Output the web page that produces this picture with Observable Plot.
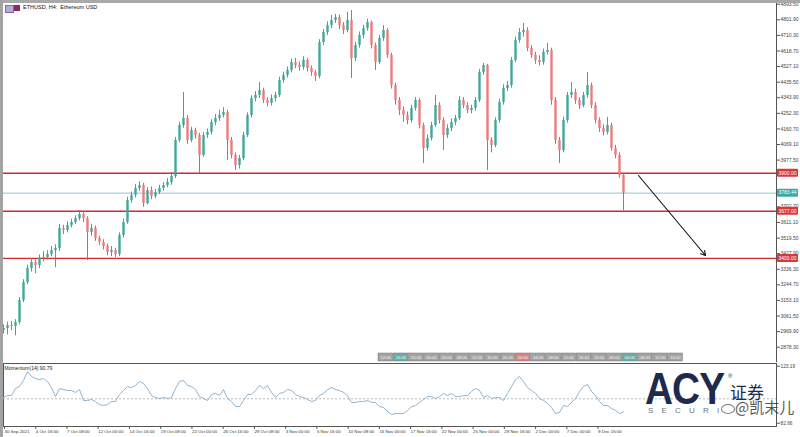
<!DOCTYPE html>
<html><head><meta charset="utf-8">
<script src="https://cdn.jsdelivr.net/npm/d3@7"></script>
<script src="https://cdn.jsdelivr.net/npm/@observablehq/plot@0.6"></script>
<style>
html,body{margin:0;padding:0;background:#fff;}
#wrap{position:relative;width:800px;height:437px;overflow:hidden;font-family:"Liberation Sans",sans-serif;}
#wrap svg{display:block;}
.ov{position:absolute;white-space:nowrap;}
</style></head><body><div id="wrap"></div>
<script>
// ---------- DATA ----------
const firstOpen = 2975;
const closes = [2988,3006,3000,3024,3153,3258,3341,3376,3358,3400,
3405,3423,3446,3458,3576,3564,3593,3611,3634,3658,
3634,3552,3576,3517,3494,3470,3435,3446,3423,3535,
3611,3740,3770,3811,3828,3723,3799,3764,3787,3811,
3828,3846,3881,4093,4181,4222,4093,4151,4122,4005,
4122,4140,4198,4222,4240,4257,4093,4005,3946,3987,
4122,4240,4339,4357,4386,4328,4310,4339,4357,4445,
4475,4504,4551,4533,4522,4563,4516,4492,4469,4668,
4727,4768,4798,4815,4768,4739,4798,4574,4651,4710,
4751,4786,4651,4551,4692,4739,4592,4416,4328,4269,
4240,4210,4281,4328,4181,4046,4104,4181,4298,4210,
4122,4163,4198,4222,4328,4298,4269,4281,4328,4492,
4533,4093,4063,4210,4316,4398,4416,4563,4680,4727,
4739,4633,4592,4563,4551,4610,4622,4328,4093,4034,
4210,4357,4375,4328,4298,4357,4416,4298,4210,4163,
4140,4181,4046,4005,3887,3783];
const highs = [3010,3025,3030,3040,3170,3275,3360,3400,3390,3420,
3440,3445,3470,3480,3600,3595,3615,3630,3650,3680,
3675,3645,3600,3590,3530,3510,3485,3470,3460,3550,
3630,3760,3790,3835,3850,3840,3815,3820,3805,3830,
3845,3870,3905,4110,4200,4375,4240,4170,4165,4135,
4140,4160,4215,4245,4270,4285,4270,4110,4020,4005,
4140,4255,4355,4380,4433,4400,4345,4360,4375,4465,
4495,4525,4570,4575,4555,4585,4575,4530,4505,4685,
4745,4790,4827,4833,4830,4785,4845,4856,4670,4730,
4770,4805,4795,4665,4710,4768,4750,4605,4430,4345,
4290,4260,4300,4345,4340,4195,4125,4200,4357,4315,
4225,4185,4220,4240,4350,4345,4315,4300,4345,4510,
4545,4540,4110,4225,4335,4420,4440,4580,4700,4750,
4780,4755,4650,4610,4590,4630,4663,4635,4345,4110,
4230,4375,4433,4395,4345,4375,4492,4430,4315,4225,
4185,4228,4195,4065,4020,3900];
const lows = [2955,2950,2975,2945,3010,3140,3245,3320,3310,3340,
3380,3390,3410,3346,3440,3540,3550,3580,3600,3620,
3610,3388,3530,3500,3475,3450,3415,3410,3405,3410,
3520,3600,3725,3755,3795,3700,3715,3745,3750,3775,
3795,3815,3830,3870,4080,4165,4070,4080,4100,3899,
3995,4105,4125,4180,4205,4225,3975,3985,3916,3925,
3975,4110,4225,4320,4340,4310,4290,4295,4320,4345,
4430,4460,4490,4515,4500,4505,4495,4470,4440,4455,
4650,4710,4750,4780,4745,4715,4725,4457,4555,4635,
4690,4735,4630,4504,4540,4675,4575,4395,4300,4240,
4200,4185,4195,4265,4160,3958,4030,4090,4170,4190,
4034,4105,4145,4180,4210,4280,4250,4250,4265,4315,
4475,3916,4020,4050,4195,4300,4380,4400,4550,4665,
4700,4615,4575,4540,4530,4535,4595,4300,4070,3958,
4020,4195,4340,4305,4275,4285,4340,4280,4190,4140,
4120,4125,4030,3985,3870,3681];
const momentum = [100.9,102.3,102.3,107.3,108.7,113.0,119.4,115.9,114.4,113.7,
114.4,112.3,108.0,101.6,107.3,106.6,105.9,105.9,104.5,106.6,
98.8,98.8,99.5,98.1,95.9,95.2,95.9,98.1,98.1,103.1,
105.9,108.7,108.0,109.5,112.3,110.9,107.3,102.3,100.9,100.2,
100.9,100.2,100.9,107.3,112.3,113.0,109.5,108.7,106.6,101.6,
100.2,98.8,103.1,103.8,102.3,106.6,100.2,98.1,94.5,94.5,
98.8,103.1,103.1,105.9,109.5,107.3,109.5,104.5,100.9,103.8,
104.5,106.6,105.9,103.1,101.6,100.9,99.5,98.1,98.8,102.3,
103.8,106.6,108.0,106.6,105.9,104.5,102.3,97.4,97.4,98.1,
98.1,98.8,97.4,97.4,94.5,93.8,91.0,88.8,89.5,89.5,
89.5,91.7,94.5,95.2,97.4,99.5,101.6,101.6,100.2,101.6,
103.8,102.3,103.8,101.6,101.6,102.3,102.3,105.2,107.3,105.9,
100.9,102.3,100.2,100.9,100.9,98.8,103.8,108.7,113.7,115.9,
112.3,108.0,105.9,103.8,100.2,98.8,96.7,93.8,89.5,90.3,
95.2,94.5,97.4,100.2,105.2,108.7,110.2,105.2,102.3,98.1,
95.2,95.2,93.1,91.7,89.5,90.79];
const redLevels = [3900.00, 3677.00, 3400.00];
const currentPrice = 3783.44;
// 3885.90 and 3794.30 sit under the level labels in the reference
const priceTicks = [4893.50,4801.90,4710.30,4618.70,4527.10,4435.50,4343.90,4252.30,4160.70,4069.10,3977.50,3702.70,3611.10,3519.50,3427.90,3336.30,3244.70,3153.10,3061.50,2969.90,2878.30];
const momTicks = [123.19, 82.66];
const momLevel = 100;
const timeLabels = ["30 Sep 2021","4 Oct 16:00","7 Oct 08:00","12 Oct 00:00","14 Oct 16:00","19 Oct 08:00","22 Oct 00:00","26 Oct 16:00","29 Oct 08:00","3 Nov 00:00","5 Nov 16:00","10 Nov 08:00","15 Nov 00:00","17 Nov 16:00","22 Nov 00:00","25 Nov 00:00","29 Nov 16:00","2 Dec 00:00","7 Dec 00:00","9 Dec 16:00"];
const labelEvery = 7.81;  // 16 H4 bars in candle units
const arrowFrom = {x: 158.75, price: 3887};
const arrowTo = {x: 175.5, price: 3417};
const stripLabels = ["12:00","16:00","20:00","00:00","04:00","08:00","12:00","16:00","20:00","00:00","04:00","08:00","12:00","16:00","20:00","00:00","04:00","08:00","12:00","16:00"];
const stripKinds = ["g","t","g","g","g","g","g","g","g","r","g","g","g","g","g","g","t","g","g","g"];

// ---------- BUILD ----------
const candles = closes.map((c,i)=>({i, open: i===0?firstOpen:closes[i-1], close:c, high:highs[i], low:lows[i]}));
const up = candles.filter(d=>d.close>=d.open), down = candles.filter(d=>d.close<d.open);
const xMax = 193.25;
const font = "Liberation Sans, sans-serif";
const narrow = "Liberation Sans Narrow, Liberation Sans, sans-serif";
const wrap = document.getElementById("wrap");

const main = Plot.plot({
  width:800, height:362, marginTop:0, marginBottom:10, marginLeft:3, marginRight:24,
  style:{fontFamily:font, fontSize:"5px", color:"#333", background:"transparent", overflow:"visible"},
  x:{domain:[0,xMax], axis:null},
  y:{domain:[2847.2,4915.2], axis:null},
  marks:[
    Plot.ruleY(redLevels,{stroke:"#d42a2a",strokeWidth:1.4}),
    Plot.ruleY([currentPrice],{stroke:"#8fc4d9",strokeWidth:1}),
    Plot.ruleX(candles,{x:"i",y1:"low",y2:"high",stroke:"#777",strokeWidth:0.9}),
    Plot.ruleX(up,{x:"i",y1:"open",y2:"close",stroke:"#3ea89c",strokeWidth:2.4}),
    Plot.ruleX(down,{x:"i",y1:"open",y2:"close",stroke:"#ec7b7d",strokeWidth:2.4}),
    Plot.arrow([0],{x1:()=>arrowFrom.x,y1:()=>arrowFrom.price,x2:()=>arrowTo.x,y2:()=>arrowTo.price,stroke:"#111",strokeWidth:1.1,headLength:7}),
    Plot.ruleX([xMax],{stroke:"#555",strokeWidth:1}),
    Plot.axisY(priceTicks,{anchor:"right",tickSize:3,tickPadding:1,tickFormat:d=>d.toFixed(2),fontSize:5,fill:"#444",stroke:"#555"})
  ]
});
wrap.appendChild(main);

// price level labels positioned through the y scale
const ys = main.scale("y");
const gl = d3.select(main).append("g").attr("font-family",font).attr("font-size",5);
const lvlLabels = redLevels.map(v=>({v,c:"#d9383b"})).concat([{v:currentPrice,c:"#3fa8a0"}]);
lvlLabels.forEach(l=>{
  const py = ys.apply(l.v);
  gl.append("rect").attr("x",777).attr("y",py-4).attr("width",21).attr("height",8).attr("fill",l.c).attr("rx",1);
  gl.append("text").attr("x",787.5).attr("y",py+1.8).attr("text-anchor","middle").attr("fill","#fff").text(l.v.toFixed(2));
});
// date strip
const gs = d3.select(main).append("g").attr("font-family",narrow).attr("font-size",4.2);
const bw = 305/stripLabels.length;
stripLabels.forEach((t,k)=>{
  const fill = stripKinds[k]==="t"?"#69aeaa":stripKinds[k]==="r"?"#d98484":"#a3a3a3";
  gs.append("rect").attr("x",378+k*bw).attr("y",353).attr("width",bw-0.6).attr("height",8).attr("fill",fill).attr("stroke","#777").attr("stroke-width",0.5);
  gs.append("text").attr("x",378+k*bw+bw/2).attr("y",359.2).attr("text-anchor","middle").attr("fill","#f4f4f4").text(t);
});
d3.select(main).append("line").attr("x1",776.5).attr("x2",776.5).attr("y1",352).attr("y2",362).attr("stroke","#555");

const tickPos = timeLabels.map((_,k)=>k*labelEvery);
const tickMap = new Map(tickPos.map((p,k)=>[p,timeLabels[k]]));
const mom = Plot.plot({
  width:800, height:75, marginTop:1, marginBottom:11, marginLeft:3, marginRight:24,
  style:{fontFamily:font, fontSize:"5px", color:"#333", background:"transparent", overflow:"visible"},
  x:{domain:[0,xMax], axis:null},
  y:{domain:[80.3,125.1], axis:null},
  marks:[
    Plot.frame({stroke:"#555",strokeWidth:1}),
    Plot.ruleY([momLevel],{stroke:"#b8b8b8",strokeDasharray:"2,2"}),
    Plot.lineY(momentum,{x:(d,i)=>i,y:d=>d,stroke:"#8fb3cf",strokeWidth:1}),
    Plot.axisY(momTicks,{anchor:"right",tickSize:3,tickPadding:1,tickFormat:d=>d.toFixed(2),fontSize:4.8,fill:"#444",stroke:"#555"}),
    Plot.axisX(tickPos,{anchor:"bottom",tickSize:3,tickPadding:0.5,tickFormat:d=>tickMap.get(d),textAnchor:"start",dx:1,fontSize:4.4,fontFamily:narrow,fill:"#333",stroke:"#555"}),
    Plot.text(["Momentum(14) 90.79"],{frameAnchor:"top-left",dx:1,dy:3,fontSize:5,fill:"#222",text:d=>d})
  ]
});
wrap.appendChild(mom);

// window chrome, header, watermark
function ov(html, css){const d=document.createElement("div");d.className="ov";d.style.cssText=css;d.innerHTML=html;wrap.appendChild(d);return d;}
ov("","left:0;top:0;width:800px;height:3px;background:#a9a9a9;");
ov("","left:0;top:0;width:3px;height:437px;background:#a3a3a3;");
ov("","left:5px;top:5px;width:7px;height:6px;background:#b9a9d9;border:1px solid #7d6aa8;");
ov("","left:14px;top:5px;width:6px;height:6px;background:#8c2a5a;");
ov("ETHUSD, H4:&nbsp; Ethereum USD","left:23px;top:4px;font-size:5.5px;color:#111;font-family:'Liberation Sans',sans-serif;");
ov("ACY","left:645px;top:372px;font-size:45px;line-height:34px;font-weight:bold;color:#1c2b4d;font-family:'Liberation Sans',Arial,sans-serif;transform:scaleX(0.86);transform-origin:left top;letter-spacing:-1px;");
ov("®","left:728px;top:373px;font-size:6px;color:#1c2b4d;");
ov("证券","left:730px;top:384px;font-size:17px;line-height:15px;color:#1c2b4d;font-family:'Noto Sans CJK SC',sans-serif;");
ov("<span>SECURITIES</span>","left:648px;top:407px;width:72px;overflow:hidden;font-size:8px;line-height:8px;letter-spacing:8.2px;color:#6d7480;font-family:'Liberation Sans',sans-serif;");
ov("@凯末儿","left:735px;top:400px;font-size:15px;line-height:14px;color:#3a3a3a;opacity:0.85;font-family:'Noto Sans CJK SC',sans-serif;");
ov("","left:721px;top:404px;width:12px;height:8px;border:1.5px solid #444;border-radius:50%;opacity:0.7;");
</script></body></html>
